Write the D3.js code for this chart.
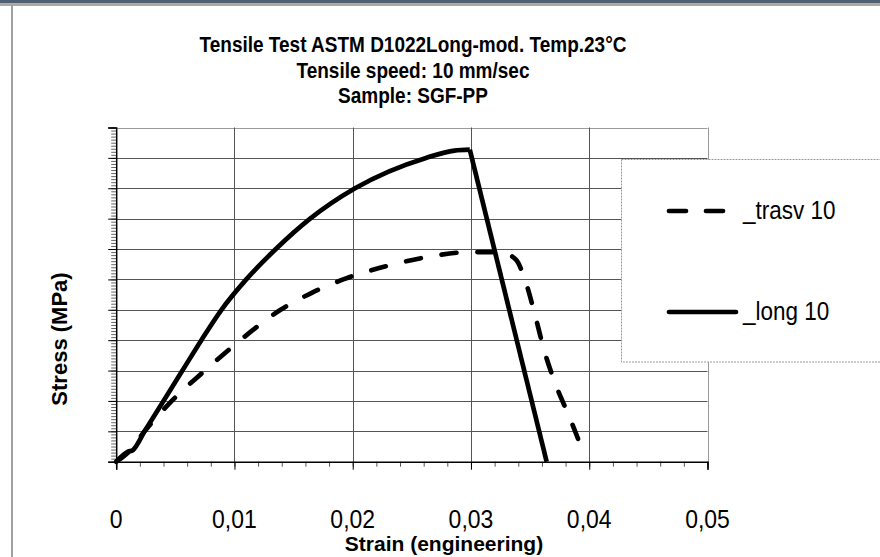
<!DOCTYPE html>
<html>
<head>
<meta charset="utf-8">
<script src="https://cdn.jsdelivr.net/npm/d3@7"></script>
<style>
  html, body { margin: 0; padding: 0; background: #fff; }
  svg { display: block; font-family: "Liberation Sans", Arial, sans-serif; }
</style>
</head>
<body>
<svg id="chart" width="880" height="557"></svg>
<script>
// ---- data ----
const titleLines = ["Tensile Test ASTM D1022Long-mod. Temp.23°C", "Tensile speed: 10 mm/sec", "Sample: SGF-PP"];
const xTickValues = [0, 0.01, 0.02, 0.03, 0.04, 0.05];
const xTickLabels = ["0", "0,01", "0,02", "0,03", "0,04", "0,05"];
const yGridValues = [0, 1, 2, 3, 4, 5, 6, 7, 8, 9, 10, 11];
const seriesNames = ["_trasv 10", "_long 10"];

const trasvStrain = [0, 0.0010, 0.0024, 0.0047, 0.0075, 0.0105, 0.0139, 0.0165, 0.0192, 0.0235, 0.0265, 0.0299, 0.0325, 0.0338, 0.0346, 0.0354, 0.0362, 0.0372, 0.0384, 0.0395];
const trasvStress = [0, 0.30, 1.00, 2.00, 3.00, 4.00, 5.00, 5.55, 6.00, 6.50, 6.75, 6.90, 6.90, 6.65, 5.95, 4.85, 3.65, 2.50, 1.40, 0.30];

const longStrain = [0, 0.0010, 0.0014, 0.0024, 0.0040, 0.0056, 0.0072, 0.0089, 0.0110, 0.0135, 0.0164, 0.0202, 0.0262, 0.0286, 0.0299, 0.0364];
const longStress = [0, 0.33, 0.38, 1.00, 2.00, 3.00, 4.00, 5.00, 6.00, 7.00, 8.00, 9.00, 10.00, 10.24, 10.27, 0];

// ---- drawing ----
const svg = d3.select("#chart");
svg.append("rect").attr("width", 880).attr("height", 557).attr("fill", "#fff");

// window frame
svg.append("rect").attr("x", 0).attr("y", 0).attr("width", 880).attr("height", 3.5).attr("fill", "#4f6170");
svg.append("line").attr("x1", 0).attr("x2", 880).attr("y1", 5).attr("y2", 5).attr("stroke", "#a8a8a8").attr("stroke-width", 2);
svg.append("line").attr("x1", 12).attr("x2", 12).attr("y1", 5).attr("y2", 557).attr("stroke", "#a0a0a0").attr("stroke-width", 2);

const x = d3.scaleLinear().domain([0, 0.05]).range([116.2, 707.5]);
const y = d3.scaleLinear().domain([0, 11]).range([461.7, 127.5]);

function stretchedText(parent, tx, ty, str, size, weight, anchor, vs) {
  return parent.append("text")
    .attr("transform", `translate(${tx},${ty}) scale(1,${vs})`)
    .attr("text-anchor", anchor || "start")
    .attr("font-size", size).attr("font-weight", weight || "normal")
    .attr("fill", "#000").text(str);
}

// gridlines
const grid = svg.append("g");
grid.selectAll(".hg").data(yGridValues.filter(v => v > 0)).enter().append("line")
  .attr("x1", x(0)).attr("x2", x(0.05))
  .attr("y1", d => Math.round(y(d)) + 0.5).attr("y2", d => Math.round(y(d)) + 0.5)
  .attr("stroke", d => d === 11 ? "#9a9a9a" : "#555").attr("stroke-width", 1);
grid.selectAll(".vg").data(xTickValues.filter(v => v > 0)).enter().append("line")
  .attr("y1", y(0)).attr("y2", y(11))
  .attr("x1", d => Math.round(x(d)) + 0.5).attr("x2", d => Math.round(x(d)) + 0.5)
  .attr("stroke", d => d === 0.05 ? "#9a9a9a" : "#555").attr("stroke-width", 1);

// y axis: minor + major ticks, no labels
const yMinor = d3.range(0, 110.5, 1).map(i => i / 10);
svg.append("g").attr("transform", `translate(${x(0)},0)`)
  .call(d3.axisLeft(y).tickValues(yMinor).tickSize(5).tickFormat(""))
  .call(g => g.select(".domain").remove())
  .call(g => g.selectAll("line").attr("stroke", "#666"));
svg.append("g").attr("transform", `translate(${x(0)},0)`)
  .call(d3.axisLeft(y).tickValues(yGridValues).tickSize(8).tickFormat(""))
  .call(g => g.select(".domain").attr("stroke", "#000").attr("stroke-width", 1.5))
  .call(g => g.selectAll("line").attr("stroke", "#000"));

// x axis
const xMinor = d3.range(0, 25.5, 1).map(i => i * 0.002);
svg.append("g").attr("transform", `translate(0,${y(0)})`)
  .call(d3.axisBottom(x).tickValues(xMinor).tickSize(5).tickFormat(""))
  .call(g => g.select(".domain").remove())
  .call(g => g.selectAll("line").attr("stroke", "#555"));
svg.append("g").attr("transform", `translate(0,${y(0)})`)
  .call(d3.axisBottom(x).tickValues(xTickValues).tickSize(8).tickFormat(""))
  .call(g => g.select(".domain").attr("stroke", "#000").attr("stroke-width", 1.5))
  .call(g => g.selectAll("line").attr("stroke", "#000"));
xTickValues.forEach((v, i) => {
  stretchedText(svg, x(v), 528, xTickLabels[i], 23, "normal", "middle", 1.12);
});

// curves
const trasv = trasvStrain.map((s, i) => [s, trasvStress[i]]);
const longS = longStrain.map((s, i) => [s, longStress[i]]);
const peakIdx = longStress.indexOf(d3.max(longStress));
const smooth = d3.line().x(d => x(d[0])).y(d => y(d[1])).curve(d3.curveMonotoneX);
const straight = d3.line().x(d => x(d[0])).y(d => y(d[1]));

svg.append("path").datum(trasv).attr("d", smooth)
  .attr("fill", "none").attr("stroke", "#000").attr("stroke-width", 4.7)
  .attr("stroke-linecap", "round").attr("stroke-linejoin", "round")
  .attr("stroke-dasharray", "15,21");
svg.append("path").datum(longS.slice(0, peakIdx + 1)).attr("d", smooth)
  .attr("fill", "none").attr("stroke", "#000").attr("stroke-width", 4.7)
  .attr("stroke-linejoin", "round");
svg.append("path").datum(longS.slice(peakIdx)).attr("d", straight)
  .attr("fill", "none").attr("stroke", "#000").attr("stroke-width", 4.7)
  .attr("stroke-linejoin", "round");

// titles
titleLines.forEach((t, i) => {
  stretchedText(svg, 413, 52 + i * 25.5, t, 19, "bold", "middle", 1.15);
});

// axis titles
stretchedText(svg, 444, 551, "Strain  (engineering)", 21, "bold", "middle", 1.0);
svg.append("text").attr("transform", "translate(67,339) rotate(-90)")
  .attr("text-anchor", "middle").attr("font-weight", "bold").attr("font-size", 22)
  .attr("fill", "#000").text("Stress  (MPa)");

// legend
const leg = svg.append("g");
leg.append("rect").attr("x", 621.5).attr("y", 159.5).attr("width", 280).attr("height", 202.5)
  .attr("fill", "#fff").attr("stroke", "#9a9a9a").attr("stroke-width", 1)
  .attr("stroke-dasharray", "2,1");
const legY = [211, 312];
leg.append("line").attr("x1", 669).attr("x2", 723).attr("y1", legY[0]).attr("y2", legY[0])
  .attr("stroke", "#000").attr("stroke-width", 4.7).attr("stroke-linecap", "round")
  .attr("stroke-dasharray", "17,20");
leg.append("line").attr("x1", 669).attr("x2", 736).attr("y1", legY[1]).attr("y2", legY[1])
  .attr("stroke", "#000").attr("stroke-width", 4.7).attr("stroke-linecap", "round");
seriesNames.forEach((n, i) => {
  stretchedText(leg, 743, legY[i] + 8, n, 22.5, "normal", "start", 1.15);
});
</script>
</body>
</html>
